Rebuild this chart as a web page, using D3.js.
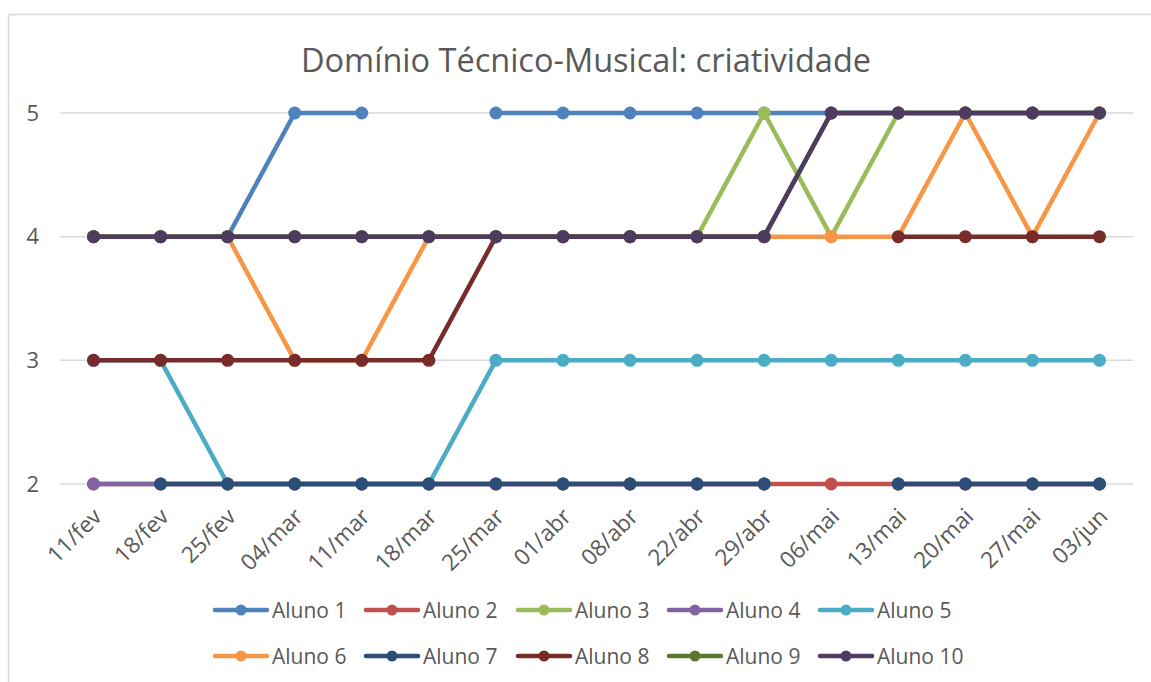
<!DOCTYPE html>
<html><head><meta charset="utf-8">
<script src="https://cdn.jsdelivr.net/npm/d3@7"></script>
<style>body{margin:0;background:#fff}svg{display:block}text{font-family:"Open Sans",sans-serif;fill:#595959}</style>
</head><body>
<svg id="c" width="1151" height="682"></svg>
<script>
const categories = ["11/fev","18/fev","25/fev","04/mar","11/mar","18/mar","25/mar","01/abr","08/abr","22/abr","29/abr","06/mai","13/mai","20/mai","27/mai","03/jun"];
const yTicks = [2,3,4,5];
const seriesNames = ["Aluno 1","Aluno 2","Aluno 3","Aluno 4","Aluno 5","Aluno 6","Aluno 7","Aluno 8","Aluno 9","Aluno 10"];
const colors = ["#4F81BD","#C0504D","#9BBB59","#8064A2","#4BACC6","#F79646","#2C4D75","#772C2A","#5F7530","#4D3B62"];
const aluno1 = [4,4,4,5,5,null,5,5,5,5,5,5,5,5,5,5];
const aluno2 = [2,2,2,2,2,2,2,2,2,2,2,2,2,2,2,2];
const aluno3 = [4,4,4,4,4,4,4,4,4,4,5,4,5,5,5,5];
const aluno4 = [2,2,2,2,2,2,2,2,2,2,2,null,2,2,2,2];
const aluno5 = [3,3,2,2,2,2,3,3,3,3,3,3,3,3,3,3];
const aluno6 = [4,4,4,3,3,4,4,4,4,4,4,4,4,5,4,5];
const aluno7 = [null,2,2,2,2,2,2,2,2,2,2,null,2,2,2,2];
const aluno8 = [3,3,3,3,3,3,4,4,4,4,4,null,4,4,4,4];
const aluno9 = [4,4,4,4,4,4,4,4,4,4,4,5,5,5,5,5];
const aluno10 = [4,4,4,4,4,4,4,4,4,4,4,5,5,5,5,5];
const seriesValues = [aluno1,aluno2,aluno3,aluno4,aluno5,aluno6,aluno7,aluno8,aluno9,aluno10];

const svg = d3.select("#c");
svg.append("rect").attr("x",8.5).attr("y",14.5).attr("width",1160).attr("height",700)
  .attr("fill","none").attr("stroke","#D9D9D9").attr("stroke-width",1.5);

const x = d3.scalePoint().domain(categories).range([60,1133]).padding(0.5);
const y = d3.scaleLinear().domain([2,5]).range([484,113]);

svg.append("g").selectAll("line").data(yTicks).join("line")
  .attr("x1",60).attr("x2",1133).attr("y1",d=>y(d)).attr("y2",d=>y(d))
  .attr("stroke","#D9D9D9").attr("stroke-width",1.5);

const yAxis = d3.axisLeft(y).tickValues(yTicks).tickSize(0).tickPadding(0).tickFormat(d3.format("d"));
const gy = svg.append("g").attr("transform","translate(39,0)").call(yAxis);
gy.select(".domain").remove();
gy.selectAll("text").attr("font-size",22).attr("fill","#595959").attr("font-family","Open Sans");

const xAxis = d3.axisBottom(x).tickSize(0).tickPadding(0);
const gx = svg.append("g").call(xAxis);
gx.select(".domain").remove();
gx.selectAll(".tick text").attr("font-size",22.5).attr("fill","#595959").attr("font-family","Open Sans")
  .attr("dy",null).attr("y",null)
  .attr("text-anchor","end")
  .attr("transform","translate(9,518) rotate(-45)");

svg.append("text").attr("x",586).attr("y",72).attr("text-anchor","middle")
  .attr("font-size",32.5).text("Domínio Técnico-Musical: criatividade");

const line = d3.line().defined(d=>d.v!==null).x(d=>x(d.c)).y(d=>y(d.v));
seriesValues.forEach((vals,i)=>{
  const data = vals.map((v,j)=>({c:categories[j],v:v}));
  const g = svg.append("g");
  g.append("path").datum(data).attr("d",line).attr("fill","none")
    .attr("stroke",colors[i]).attr("stroke-width",4.5).attr("stroke-linejoin","round");
  g.selectAll("circle").data(data.filter(d=>d.v!==null)).join("circle")
    .attr("cx",d=>x(d.c)).attr("cy",d=>y(d.v)).attr("r",6.5).attr("fill",colors[i]);
});

const legendX = [213,364,516,667,818];
const legendY = [610,656];
seriesNames.forEach((n,i)=>{
  const lx = legendX[i%5], ly = legendY[Math.floor(i/5)];
  const g = svg.append("g").attr("transform",`translate(${lx},${ly})`);
  g.append("line").attr("x1",2).attr("x2",54).attr("y1",0).attr("y2",0)
    .attr("stroke",colors[i]).attr("stroke-width",4.5).attr("stroke-linecap","round");
  g.append("circle").attr("cx",28).attr("cy",0).attr("r",5.5).attr("fill",colors[i]);
  g.append("text").attr("x",59).attr("y",8).attr("font-size",21).text(n);
});
</script>
</body></html>
